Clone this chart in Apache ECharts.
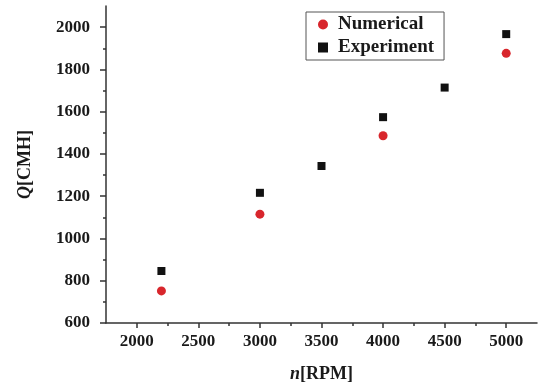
<!DOCTYPE html>
<html>
<head>
<meta charset="utf-8">
<script src="https://cdn.jsdelivr.net/npm/echarts@6/dist/echarts.min.js"></script>
<style>
  html, body { margin: 0; padding: 0; background: #fff; }
  #chart { width: 540px; height: 388px; }
</style>
</head>
<body>
<div id="chart"></div>
<script>
const rpmNumerical = [2200, 3000, 4000, 5000]
const flowNumerical = [752, 1115, 1486, 1876]
const rpmExperiment = [2200, 3000, 3500, 4000, 4500, 5000]
const flowExperiment = [846, 1216, 1343, 1574, 1714, 1967]

const xMajorTicks = [2000, 2500, 3000, 3500, 4000, 4500, 5000]
const xMinorTicks = [2250, 2750, 3250, 3750, 4250, 4750]
const yMajorTicks = [600, 800, 1000, 1200, 1400, 1600, 1800, 2000]
const yMinorTicks = [700, 900, 1100, 1300, 1500, 1700, 1900]

const font = 'Liberation Serif'
const axisColor = '#333'
const textColor = '#1a1a1a'

const chart = echarts.init(document.getElementById('chart'))

const pairs = (xs, ys) => xs.map((x, i) => [x, ys[i]])

const labelStyle = {
  fontFamily: font,
  fontWeight: 'bold',
  fontSize: 17,
  color: textColor,
  formatter: (v) => String(v)
}

const nameStyle = {
  fontFamily: font,
  fontWeight: 'bold',
  fontSize: 18,
  color: textColor,
  rich: { i: { fontFamily: font, fontWeight: 'bold', fontStyle: 'italic', fontSize: 18, color: textColor } }
}

const option = {
  animation: false,
  backgroundColor: '#fff',
  grid: { left: 106, right: 3, top: 6, bottom: 63 },
  legend: {
    orient: 'vertical',
    left: 306,
    top: 12,
    padding: [3, 10, 3, 12],
    itemGap: 4,
    itemWidth: 10,
    itemHeight: 10,
    borderColor: '#555',
    borderWidth: 1,
    textStyle: {
      fontFamily: font,
      fontWeight: 'bold',
      fontSize: 19,
      color: textColor,
      padding: [0, 0, 0, 5]
    },
    data: [
      { name: 'Numerical', icon: 'circle' },
      { name: 'Experiment', icon: 'rect' }
    ]
  },
  xAxis: [
    {
      type: 'value',
      min: 1750,
      max: 5250,
      splitLine: { show: false },
      axisLine: { lineStyle: { color: axisColor, width: 1.5 } },
      axisTick: { customValues: xMajorTicks, length: 5, lineStyle: { color: axisColor, width: 1.5 } },
      axisLabel: Object.assign({ customValues: xMajorTicks, margin: 10 }, labelStyle),
      name: '{i|n}[RPM]',
      nameLocation: 'middle',
      nameGap: 42,
      nameTextStyle: nameStyle
    },
    {
      type: 'value',
      min: 1750,
      max: 5250,
      position: 'bottom',
      splitLine: { show: false },
      axisLine: { show: false },
      axisTick: { customValues: xMinorTicks, length: 3, lineStyle: { color: axisColor, width: 1.5 } },
      axisLabel: { show: false }
    }
  ],
  yAxis: [
    {
      type: 'value',
      min: 600,
      max: 2100,
      splitLine: { show: false },
      axisLine: { show: true, lineStyle: { color: axisColor, width: 1.5 } },
      axisTick: { show: true, customValues: yMajorTicks, length: 6, lineStyle: { color: axisColor, width: 1.5 } },
      axisLabel: Object.assign({ customValues: yMajorTicks, margin: 16 }, labelStyle),
      name: '{i|Q}[CMH]',
      nameLocation: 'middle',
      nameGap: 72,
      nameTextStyle: nameStyle
    },
    {
      type: 'value',
      min: 600,
      max: 2100,
      position: 'left',
      splitLine: { show: false },
      axisLine: { show: false },
      axisTick: { show: true, customValues: yMinorTicks, length: 3, lineStyle: { color: axisColor, width: 1.5 } },
      axisLabel: { show: false }
    }
  ],
  series: [
    {
      name: 'Numerical',
      type: 'scatter',
      symbol: 'circle',
      symbolSize: 9,
      itemStyle: { color: '#d8262c', opacity: 1 },
      data: pairs(rpmNumerical, flowNumerical)
    },
    {
      name: 'Experiment',
      type: 'scatter',
      symbol: 'rect',
      symbolSize: 8,
      itemStyle: { color: '#111', opacity: 1 },
      data: pairs(rpmExperiment, flowExperiment)
    }
  ]
}

chart.setOption(option)
</script>
</body>
</html>
